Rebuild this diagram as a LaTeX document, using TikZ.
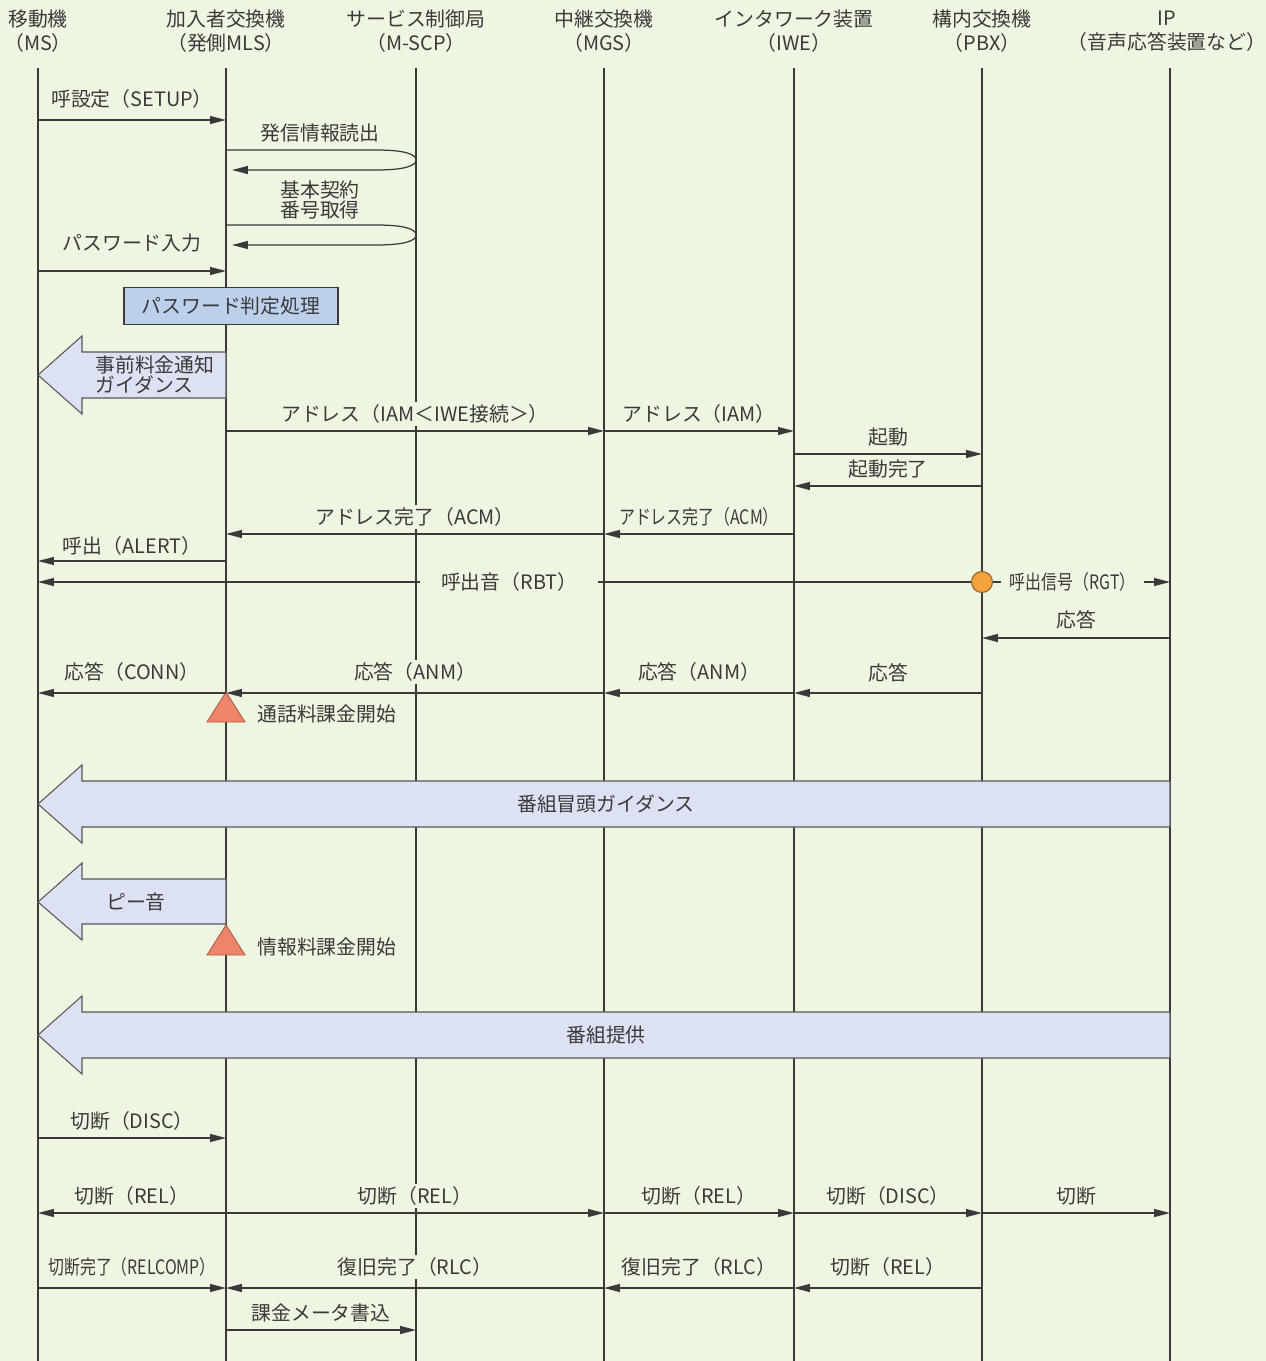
\documentclass[tikz,border=0pt]{standalone}
\usepackage{fontspec}
\setmainfont{Noto Sans CJK JP}
\newfontfamily\narrowfont[FakeStretch=0.8]{Noto Sans CJK JP}
\usetikzlibrary{calc,positioning,arrows.meta}
\definecolor{paper}{HTML}{EEF6E2}
\definecolor{ink}{HTML}{3A3A3A}
\definecolor{guide}{HTML}{DDE1F4}
\definecolor{proc}{HTML}{BCD0EC}
\definecolor{charge}{HTML}{EF8568}
\definecolor{ring}{HTML}{F4A23C}
\tikzset{
  every node/.style={text=ink,font=\fontsize{11.3}{13.6}\selectfont},
  head/.style={align=center,inner sep=0pt},
  life/.style={draw=ink,line width=0.7pt},
  msg/.style={draw=ink,line width=0.7pt,-{Triangle[length=9pt,width=4.5pt]}},
  lbl/.style={above=2.5pt,fill=paper,inner sep=1.5pt},
  narrow/.style={font=\narrowfont\fontsize{11.3}{13.6}\selectfont},
  guidearrow/.style={fill=guide,draw=ink!85,line width=0.6pt},
  procbox/.style={rectangle,draw=ink,fill=proc,line width=0.6pt,minimum width=4.28cm,minimum height=0.74cm},
  chargemark/.style={fill=charge,draw=charge!70!black,line width=0.5pt},
  ringmark/.style={circle,fill=ring,draw=ring!60!black,line width=0.6pt,inner sep=0pt,minimum size=0.42cm}
}
\begin{document}
\begin{tikzpicture}[x=0.02cm,y=-0.02cm]
  \fill[paper] (0,0) rectangle (1266,1361);
  \useasboundingbox (0,0) rectangle (1266,1361);

  % stations
  \node[head] (msh)  at (38,31)   {移動機\\（MS）};
  \node[head] (mlsh) at (226,31)  {加入者交換機\\（発側MLS）};
  \node[head] (scph) at (416,31)  {サービス制御局\\（M-SCP）};
  \node[head] (mgsh) at (604,31)  {中継交換機\\（MGS）};
  \node[head] (iweh) at (794,31)  {インタワーク装置\\（IWE）};
  \node[head] (pbxh) at (982,31)  {構内交換機\\（PBX）};
  \node[head] (iph)  at (1167,31) {IP\\（音声応答装置など）};

  \foreach \n/\x in {ms/38,mls/226,scp/416,mgs/604,iwe/794,pbx/982,ip/1170}
    \draw[life] (\x,68) coordinate (\n) -- (\x,1361);
  \coordinate (neck) at (82,0);

  % guidance arrows and marks
  \node[procbox] (judge) at (231,306) {パスワード判定処理};
  \draw[guidearrow] (ms |- 0,375) -- (neck |- 0,336) -- ++(0,16) -| (mls |- 0,398) -- (neck |- 0,398) -- ++(0,16) -- cycle;
  \node[anchor=west,align=left,inner sep=0pt,font=\fontsize{11.3}{11.3}\selectfont] (notice) at (95,375) {事前料金通知\\ガイダンス};
  \draw[guidearrow] (ms |- 0,804) -- (neck |- 0,765) -- ++(0,16) -| (ip |- 0,827) -- (neck |- 0,827) -- ++(0,16) -- cycle;
  \node (opening) at (606,804) {番組冒頭ガイダンス};
  \draw[guidearrow] (ms |- 0,902) -- (neck |- 0,863) -- ++(0,16) -| (mls |- 0,924) -- (neck |- 0,924) -- ++(0,16) -- cycle;
  \node (beep) at (136,902) {ピー音};
  \draw[guidearrow] (ms |- 0,1035) -- (neck |- 0,996) -- ++(0,16) -| (ip |- 0,1058) -- (neck |- 0,1058) -- ++(0,16) -- cycle;
  \node (program) at (606,1035) {番組提供};

  \draw[chargemark] (mls |- 0,692) -- ++(19,30) -- ++(-38,0) -- cycle;
  \node[anchor=west,inner sep=0pt] (talkcharge) at (257,714) {通話料課金開始};
  \draw[chargemark] (mls |- 0,925) -- ++(19,30) -- ++(-38,0) -- cycle;
  \node[anchor=west,inner sep=0pt] (infocharge) at (257,947) {情報料課金開始};

  % messages
  \draw[msg] (ms |- 0,120) -- node[lbl,above=4.5pt] {呼設定（SETUP）} (mls |- 0,120);
  \draw[msg] (mls |- 0,150) -- ($(scp |- 0,150)+(-40,0)$) .. controls +(28,0) and +(0,-6) .. (scp |- 0,160)
             .. controls +(0,6) and +(28,0) .. ($(scp |- 0,170)+(-40,0)$) -- ($(mls |- 0,170)+(6,0)$);
  \node (readout) at (320,133) {発信情報読出};
  \draw[msg] (mls |- 0,225) -- ($(scp |- 0,225)+(-40,0)$) .. controls +(28,0) and +(0,-6) .. (scp |- 0,235)
             .. controls +(0,6) and +(28,0) .. ($(scp |- 0,245)+(-40,0)$) -- ($(mls |- 0,245)+(6,0)$);
  \node[align=center,font=\fontsize{11.3}{11.9}\selectfont] (contract) at (320,200) {基本契約\\番号取得};
  \draw[msg] (ms |- 0,271) -- node[lbl,above=9pt] {パスワード入力} (mls |- 0,271);

  \draw[msg] (mls |- 0,431) -- node[lbl] {アドレス（IAM＜IWE接続＞）} (mgs |- 0,431);
  \draw[msg] (mgs |- 0,431) -- node[lbl] {アドレス（IAM）} (iwe |- 0,431);
  \draw[msg] (iwe |- 0,454) -- node[lbl] {起動} (pbx |- 0,454);
  \draw[msg] (pbx |- 0,486) -- node[lbl] {起動完了} (iwe |- 0,486);
  \draw[msg] (iwe |- 0,534) -- node[lbl,narrow] {アドレス完了（ACM）} (mgs |- 0,534);
  \draw[msg] (mgs |- 0,534) -- node[lbl] {アドレス完了（ACM）} (mls |- 0,534);
  \draw[msg] (mls |- 0,561) -- node[lbl,above=1.5pt] {呼出（ALERT）} (ms |- 0,561);

  \node[ringmark] (ringer) at (pbx |- 0,582) {};
  \draw[msg] (ringer.west) -- node[pos=0.495,fill=paper,inner xsep=12pt,inner ysep=1pt] {呼出音（RBT）} (ms |- ringer);
  \draw[msg] (ringer.east) -- node[pos=0.45,narrow,fill=paper,inner xsep=5pt,inner ysep=1pt] {呼出信号（RGT）} (ip |- ringer);
  \draw[msg] (ip |- 0,638) -- node[lbl,above=3pt] {応答} (pbx |- 0,638);

  \draw[msg] (pbx |- 0,693) -- node[lbl,above=4.5pt] {応答} (iwe |- 0,693);
  \draw[msg] (iwe |- 0,693) -- node[lbl,above=4.5pt] {応答（ANM）} (mgs |- 0,693);
  \draw[msg] (mgs |- 0,693) -- node[lbl,above=4.5pt] {応答（ANM）} (mls |- 0,693);
  \draw[msg] (mls |- 0,693) -- node[lbl,above=4.5pt] {応答（CONN）} (ms |- 0,693);

  \draw[msg] (ms |- 0,1138) -- node[lbl] {切断（DISC）} (mls |- 0,1138);
  \draw[msg] (mls |- 0,1213) -- node[lbl] {切断（REL）} (ms |- 0,1213);
  \draw[msg] (mls |- 0,1213) -- node[lbl] {切断（REL）} (mgs |- 0,1213);
  \draw[msg] (mgs |- 0,1213) -- node[lbl] {切断（REL）} (iwe |- 0,1213);
  \draw[msg] (iwe |- 0,1213) -- node[lbl] {切断（DISC）} (pbx |- 0,1213);
  \draw[msg] (pbx |- 0,1213) -- node[lbl] {切断} (ip |- 0,1213);

  \draw[msg] (ms |- 0,1288) -- node[lbl,narrow,above=4.5pt] {切断完了（RELCOMP）} (mls |- 0,1288);
  \draw[msg] (mgs |- 0,1288) -- node[lbl,above=4.5pt] {復旧完了（RLC）} (mls |- 0,1288);
  \draw[msg] (iwe |- 0,1288) -- node[lbl,above=4.5pt] {復旧完了（RLC）} (mgs |- 0,1288);
  \draw[msg] (pbx |- 0,1288) -- node[lbl,above=4.5pt] {切断（REL）} (iwe |- 0,1288);
  \draw[msg] (mls |- 0,1330) -- node[lbl] {課金メータ書込} (scp |- 0,1330);
\end{tikzpicture}
\end{document}
